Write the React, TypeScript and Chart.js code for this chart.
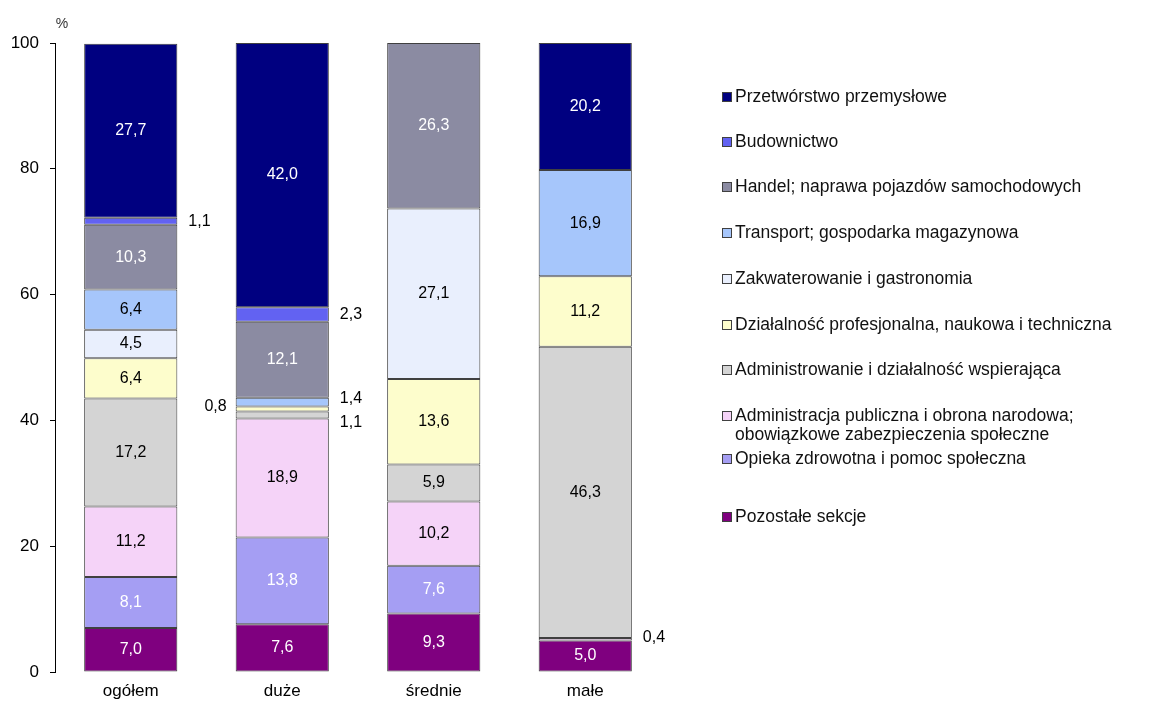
import React, { useEffect, useRef } from "react";
import { Chart, registerables } from "chart.js";

Chart.register(...registerables);

const categories = ["ogółem", "duże", "średnie", "małe"];

const seriesNames = [
  "Przetwórstwo przemysłowe",
  "Budownictwo",
  "Handel; naprawa pojazdów samochodowych",
  "Transport; gospodarka magazynowa",
  "Zakwaterowanie i gastronomia",
  "Działalność profesjonalna, naukowa i techniczna",
  "Administrowanie i działalność wspierająca",
  "Administracja publiczna i obrona narodowa;\nobowiązkowe zabezpieczenia społeczne",
  "Opieka zdrowotna i pomoc społeczna",
  "Pozostałe sekcje",
];

const przetworstwo = [27.7, 42.0, null, 20.2];
const budownictwo = [1.1, 2.3, null, null];
const handel = [10.3, 12.1, 26.3, null];
const transport = [6.4, 1.4, null, 16.9];
const zakwaterowanie = [4.5, null, 27.1, null];
const dzialalnosc = [6.4, 0.8, 13.6, 11.2];
const administrowanie = [17.2, 1.1, 5.9, 46.3];
const administracja = [11.2, 18.9, 10.2, 0.4];
const opieka = [8.1, 13.8, 7.6, null];
const pozostale = [7.0, 7.6, 9.3, 5.0];

const yTicks = [0, 20, 40, 60, 80, 100];

const seriesValues = [
  przetworstwo,
  budownictwo,
  handel,
  transport,
  zakwaterowanie,
  dzialalnosc,
  administrowanie,
  administracja,
  opieka,
  pozostale,
];

const seriesColors = [
  "#000080",
  "#6262f2",
  "#8b8ba2",
  "#a6c6fb",
  "#e9effd",
  "#fdfdcc",
  "#d4d4d4",
  "#f5d3f8",
  "#a59ef3",
  "#7f007f",
];

const labelColors = [
  "#ffffff",
  "#ffffff",
  "#ffffff",
  "#000000",
  "#000000",
  "#000000",
  "#000000",
  "#000000",
  "#ffffff",
  "#ffffff",
];

const FONT = "'Liberation Sans', Arial, sans-serif";

// placement tweaks for small outside labels: key = "legendIndex-categoryIndex"
const outsidePlacement: Record<string, { side: "left" | "right"; dy: number }> = {
  "1-0": { side: "right", dy: 0 },
  "1-1": { side: "right", dy: 0 },
  "3-1": { side: "right", dy: -4 },
  "5-1": { side: "left", dy: -2 },
  "6-1": { side: "right", dy: 8 },
  "7-3": { side: "right", dy: -2 },
};

const fmt = (v: number) => v.toFixed(1).replace(".", ",");

const labelsPlugin = {
  id: "segLabels",
  afterDatasetsDraw(chart: any) {
    const ctx = chart.ctx;
    ctx.save();
    ctx.font = `16px ${FONT}`;
    ctx.textBaseline = "middle";
    chart.data.datasets.forEach((ds: any, di: number) => {
      const legendIdx = ds.legendIndex;
      const meta = chart.getDatasetMeta(di);
      meta.data.forEach((bar: any, i: number) => {
        const v = ds.data[i];
        if (v === null || v === undefined) return;
        const props = bar.getProps(["x", "y", "base", "width"], true);
        const cy = (props.y + props.base) / 2;
        const key = `${legendIdx}-${i}`;
        const place = outsidePlacement[key];
        if (place) {
          ctx.fillStyle = "#000";
          if (place.side === "right") {
            ctx.textAlign = "left";
            ctx.fillText(fmt(v), props.x + props.width / 2 + 11, cy + place.dy);
          } else {
            ctx.textAlign = "right";
            ctx.fillText(fmt(v), props.x - props.width / 2 - 9, cy + place.dy);
          }
        } else {
          ctx.fillStyle = labelColors[legendIdx];
          ctx.textAlign = "center";
          ctx.fillText(fmt(v), props.x, cy);
        }
      });
    });
    ctx.restore();
  },
  afterDraw(chart: any) {
    const ctx = chart.ctx;
    ctx.save();
    // percent sign
    ctx.font = `14px ${FONT}`;
    ctx.fillStyle = "#333";
    ctx.textAlign = "center";
    ctx.textBaseline = "middle";
    ctx.fillText("%", 62, 24);
    // legend
    const rowsY = [97, 142, 187, 233, 279, 325, 370, 416, 459, 517];
    ctx.font = `17.5px ${FONT}`;
    ctx.textAlign = "left";
    seriesNames.forEach((name, k) => {
      const y = rowsY[k];
      ctx.fillStyle = seriesColors[k];
      ctx.fillRect(722, y - 5, 10, 10);
      ctx.strokeStyle = "#404040";
      ctx.lineWidth = 1;
      ctx.strokeRect(722.5, y - 4.5, 9, 9);
      ctx.fillStyle = "#111";
      name.split("\n").forEach((line, li) => {
        ctx.fillText(line, 735, y + li * 19);
      });
    });
    ctx.restore();
  },
};

export default function App() {
  const ref = useRef<HTMLCanvasElement | null>(null);
  useEffect(() => {
    document.body.style.margin = "0";
    Chart.defaults.font.family = FONT;
    const datasets = seriesValues
      .map((vals, k) => ({
        label: seriesNames[k],
        legendIndex: k,
        data: vals,
        backgroundColor: seriesColors[k],
        borderColor: "#404040",
        borderWidth: 1,
        borderSkipped: false,
        barPercentage: 0.615,
        categoryPercentage: 1,
      }))
      .reverse();
    const chart = new Chart(ref.current as HTMLCanvasElement, {
      type: "bar",
      data: { labels: categories, datasets: datasets as any },
      options: {
        responsive: false,
        animation: false,
        layout: { padding: { top: 43, right: 510, bottom: 0, left: 0 } },
        plugins: { legend: { display: false }, tooltip: { enabled: false } },
        scales: {
          x: {
            stacked: true,
            grid: { display: false, drawTicks: false },
            border: { display: false },
            ticks: { color: "#000", font: { size: 17 }, padding: 9 },
            afterFit: (s: any) => {
              s.height = 32;
            },
          },
          y: {
            stacked: true,
            min: 0,
            max: 100,
            afterBuildTicks: (s: any) => {
              s.ticks = yTicks.map((v) => ({ value: v }));
            },
            ticks: { color: "#000", font: { size: 17 }, padding: 11 },
            grid: { drawOnChartArea: false, drawTicks: true, tickLength: 5, color: "#000" },
            border: { display: true, color: "#000" },
            afterFit: (s: any) => {
              s.width = 55;
            },
          },
        },
      },
      plugins: [labelsPlugin],
    });
    return () => chart.destroy();
  }, []);
  return (
    <div style={{ width: 1171, height: 704, background: "#fff" }}>
      <canvas ref={ref} width={1171} height={704} />
    </div>
  );
}
